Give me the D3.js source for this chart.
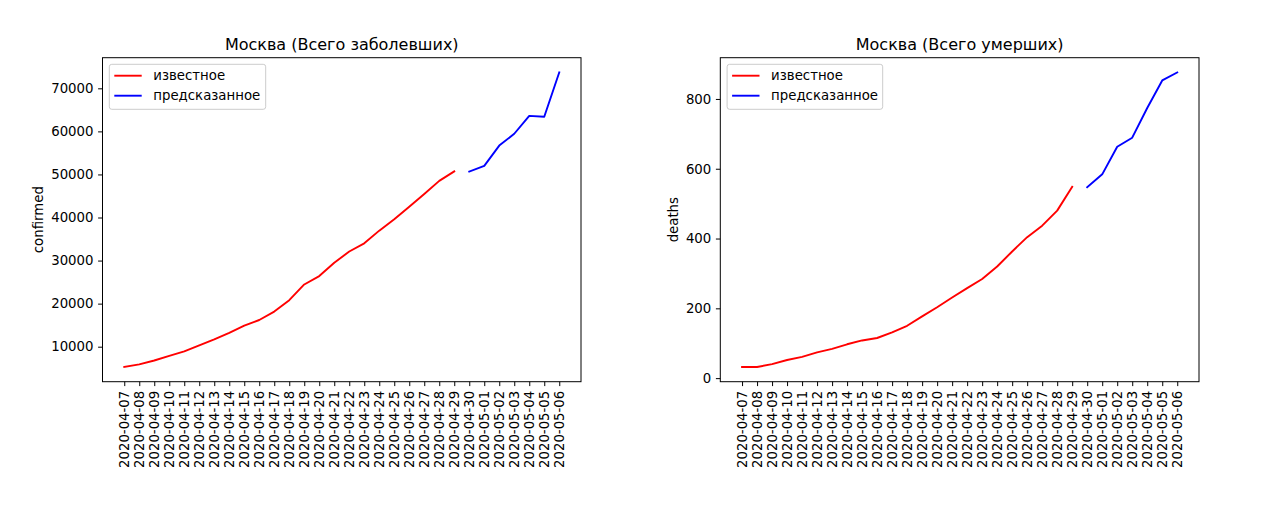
<!DOCTYPE html>
<html>
<head>
<meta charset="utf-8">
<script src="https://cdn.jsdelivr.net/npm/d3@7"></script>
<style>
  html, body { margin: 0; padding: 0; background: #fff; }
  svg { display: block; font-family: "DejaVu Sans", sans-serif; }
</style>
</head>
<body>
<svg id="chart" width="1280" height="507"></svg>
<script>
// ---- data ----
const dates = ["2020-04-07","2020-04-08","2020-04-09","2020-04-10","2020-04-11","2020-04-12","2020-04-13","2020-04-14","2020-04-15","2020-04-16","2020-04-17","2020-04-18","2020-04-19","2020-04-20","2020-04-21","2020-04-22","2020-04-23","2020-04-24","2020-04-25","2020-04-26","2020-04-27","2020-04-28","2020-04-29","2020-04-30","2020-05-01","2020-05-02","2020-05-03","2020-05-04","2020-05-05","2020-05-06"];
const knownDates = dates.slice(0, 23);
const predDates = dates.slice(23);

const confirmedKnown = [5290, 5900, 6800, 7850, 8900, 10300, 11700, 13200, 14900, 16200, 18150, 20800, 24450, 26400, 29500, 32100, 34000, 36950, 39600, 42500, 45450, 48500, 50700];
const confirmedPred = [50650, 52000, 56700, 59450, 63600, 63400, 73690];

const deathsKnown = [32, 32, 40, 52, 61, 74, 84, 97, 108, 115, 131, 150, 177, 203, 231, 258, 284, 320, 363, 404, 437, 480, 548];
const deathsPred = [547, 584, 663, 689, 774, 853, 876];

const confirmedTicks = [10000, 20000, 30000, 40000, 50000, 60000, 70000];
const deathsTicks = [0, 200, 400, 600, 800];

const seriesNames = ["известное", "предсказанное"];
const seriesColors = ["#ff0000", "#0000ff"];

const panels = [
  { title: "Москва (Всего заболевших)", ylabel: "confirmed", known: confirmedKnown, pred: confirmedPred, ticks: confirmedTicks },
  { title: "Москва (Всего умерших)", ylabel: "deaths", known: deathsKnown, pred: deathsPred, ticks: deathsTicks }
];

// ---- layout ----
const boxes = [
  { x0: 102.5, x1: 581, y0: 57.7, y1: 381.7, ylabelX: 43, legendW: 156.4 },
  { x0: 720.3, x1: 1199, y0: 57.7, y1: 381.7, ylabelX: 678, legendW: 155.6 }
];
const fs = 13.3;
const svg = d3.select("#chart");

panels.forEach((p, k) => {
  const b = boxes[k];
  const g = svg.append("g");

  const x = d3.scalePoint().domain(dates).range([b.x0, b.x1]).padding(1.45);
  const all = p.known.concat(p.pred);
  const [mn, mx] = d3.extent(all);
  const m = (mx - mn) * 0.05;
  const y = d3.scaleLinear().domain([mn - m, mx + m]).range([b.y1, b.y0]);

  const line = d3.line().x(d => x(d[0])).y(d => y(d[1]));

  g.append("path")
    .datum(knownDates.map((d, i) => [d, p.known[i]]))
    .attr("d", line).attr("fill", "none")
    .attr("stroke", seriesColors[0]).attr("stroke-width", 1.9)
    .attr("stroke-linejoin", "round").attr("stroke-linecap", "square");
  g.append("path")
    .datum(predDates.map((d, i) => [d, p.pred[i]]))
    .attr("d", line).attr("fill", "none")
    .attr("stroke", seriesColors[1]).attr("stroke-width", 1.9)
    .attr("stroke-linejoin", "round").attr("stroke-linecap", "square");

  // frame
  g.append("rect")
    .attr("x", b.x0).attr("y", b.y0)
    .attr("width", b.x1 - b.x0).attr("height", b.y1 - b.y0)
    .attr("fill", "none").attr("stroke", "#000").attr("stroke-width", 1);

  // x axis
  const xa = g.append("g").attr("transform", `translate(0,${b.y1})`)
    .call(d3.axisBottom(x).tickSize(4.4).tickSizeOuter(0).tickPadding(0));
  xa.select(".domain").remove();
  xa.selectAll(".tick line").attr("stroke", "#000").attr("stroke-width", 1);
  xa.selectAll(".tick text")
    .attr("font-family", "DejaVu Sans").attr("font-size", fs).attr("fill", "#000")
    .attr("text-anchor", "end")
    .attr("transform", "translate(0,9) rotate(-90)")
    .attr("x", 0).attr("y", 0).attr("dy", "0.35em");

  // y axis
  const ya = g.append("g").attr("transform", `translate(${b.x0},0)`)
    .call(d3.axisLeft(y).tickValues(p.ticks).tickFormat(d3.format("d")).tickSize(4.4).tickPadding(4.6));
  ya.select(".domain").remove();
  ya.selectAll(".tick line").attr("stroke", "#000").attr("stroke-width", 1);
  ya.selectAll(".tick text")
    .attr("font-family", "DejaVu Sans").attr("font-size", fs).attr("fill", "#000");

  // title
  g.append("text")
    .attr("x", (b.x0 + b.x1) / 2).attr("y", 50)
    .attr("text-anchor", "middle").attr("font-size", 16).attr("fill", "#000")
    .text(p.title);

  // y label
  g.append("text")
    .attr("transform", `translate(${b.ylabelX},${(b.y0 + b.y1) / 2}) rotate(-90)`)
    .attr("text-anchor", "middle").attr("font-size", fs).attr("fill", "#000")
    .text(p.ylabel);

  // legend
  const lx = b.x0 + 6.8, ly = 64.3;
  const lg = g.append("g");
  lg.append("rect")
    .attr("x", lx).attr("y", ly).attr("width", b.legendW).attr("height", 45)
    .attr("rx", 2.5).attr("fill", "#fff").attr("fill-opacity", 0.8)
    .attr("stroke", "#cccccc").attr("stroke-width", 1);
  seriesNames.forEach((n, i) => {
    const yy = ly + 11.4 + i * 20;
    lg.append("line")
      .attr("x1", lx + 5).attr("x2", lx + 32.4)
      .attr("y1", yy).attr("y2", yy)
      .attr("stroke", seriesColors[i]).attr("stroke-width", 1.9);
    lg.append("text")
      .attr("x", lx + 44).attr("y", yy).attr("dy", "0.35em")
      .attr("font-size", fs).attr("fill", "#000")
      .text(n);
  });
});
</script>
</body>
</html>
